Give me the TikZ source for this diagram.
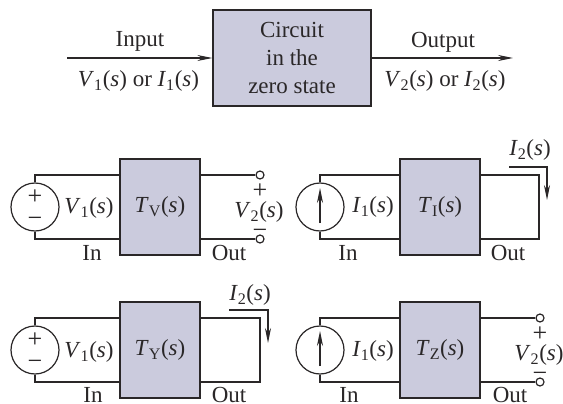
\documentclass[tikz,border=0pt]{standalone}
\usepackage{fontspec}
\usepackage{xcolor}
\usetikzlibrary{arrows.meta,positioning}
\setmainfont{Liberation Serif}
\definecolor{blockFill}{HTML}{CBCBDD}
\definecolor{inkDark}{HTML}{2A2728}
\newcommand{\sig}[2]{\textit{#1}\textsubscript{#2}(\textit{s})}

\begin{document}
\begin{tikzpicture}[
        x=1pt,y=-1pt,
        every node/.style={font=\fontsize{23}{28}\selectfont,text=inkDark,inner sep=0pt},
        block/.style={rectangle,draw=inkDark,fill=blockFill,minimum width=80pt,
                    minimum height=96pt,align=center,line width=1.3pt},
        src/.style={circle,draw=inkDark,fill=white,minimum size=48pt,line width=1.2pt},
        term/.style={circle,draw=inkDark,fill=white,minimum size=8pt,line width=1.2pt},
        sign/.style={font=\fontsize{26}{26}\selectfont},
        wire/.style={color=inkDark,line width=1.2pt},
        arr/.style={-{Stealth[length=15pt,width=6pt]},color=inkDark,line width=1.2pt}
      ]
        \useasboundingbox (0,0) rectangle (563,404);
        % top block
        \node[block,minimum width=158pt] (main) at (292,58) {Circuit\\in the\\zero state};
        \coordinate (inL) at (67,58);
        \coordinate (outR) at (513,58);
        \draw[arr] (inL)--(main.west);
        \draw[arr] (main.east)--(outR);
        \node (inlab) at (140,41) {Input};
        \node (insig) at (138.5,81) {\sig{V}{1} or \sig{I}{1}};
        \node (outlab) at (443,42) {Output};
        \node (outsig) at (445,81) {\sig{V}{2} or \sig{I}{2}};
        % voltage ratio
        \node[src] (s1) at (35,207) {};
        \node[block] (tv) at (160,207) {\sig{T}{V}};
        \node[term] (t1a) at (260,175) {};
        \node[term] (t1b) at (260,239) {};
        \draw[wire] (s1.north) |- (tv.west |- t1a);
        \draw[wire] (s1.south) |- (tv.west |- t1b);
        \draw[wire] (tv.east |- t1a)--(t1a);
        \draw[wire] (tv.east |- t1b)--(t1b);
        \node[sign] (p1) at (35,197) {+};
        \node[sign] (m1) at (35,222) {−};
        \node (v1a) at (89,208) {\sig{V}{1}};
        \node (in1) at (92,253) {In};
        \node (out1) at (229,253) {Out};
        \node[sign] (pv1) at (260,191) {+};
        \node (v2a) at (259,212) {\sig{V}{2}};
        \node[sign] (mv1) at (260,234) {−};
        % current ratio
        \node[src] (s2) at (320,207) {};
        \node[block] (ti) at (440,207) {\sig{T}{I}};
        \coordinate (c2a) at (539,175);
        \coordinate (c2b) at (539,239);
        \draw[wire] (s2.north) |- (ti.west |- c2a);
        \draw[wire] (s2.south) |- (ti.west |- c2b);
        \draw[wire] (ti.east |- c2a)--(c2a)--(c2b)--(ti.east |- c2b);
        \coordinate (a2a) at (320,223);
        \coordinate (a2b) at (320,188);
        \draw[arr] (a2a)--(a2b);
        \coordinate (i2a) at (509,167);
        \coordinate (i2b) at (547,200);
        \draw[arr] (i2a)-|(i2b);
        \node (i1a) at (373,207) {\sig{I}{1}};
        \node (i2l) at (530,150) {\sig{I}{2}};
        \node (in2) at (348,253) {In};
        \node (out2) at (508,253) {Out};
        % transfer admittance
        \node[src] (s3) at (35,350) {};
        \node[block] (ty) at (160,350) {\sig{T}{Y}};
        \coordinate (c3a) at (260,318);
        \coordinate (c3b) at (260,382);
        \draw[wire] (s3.north) |- (ty.west |- c3a);
        \draw[wire] (s3.south) |- (ty.west |- c3b);
        \draw[wire] (ty.east |- c3a)--(c3a)--(c3b)--(ty.east |- c3b);
        \node[sign] (p3) at (35,340) {+};
        \node[sign] (m3) at (35,365) {−};
        \coordinate (i3a) at (229,310);
        \coordinate (i3b) at (268,343);
        \draw[arr] (i3a)-|(i3b);
        \node (v1c) at (89,352) {\sig{V}{1}};
        \node (i2c) at (250,295) {\sig{I}{2}};
        \node (in3) at (93,395) {In};
        \node (out3) at (229,395) {Out};
        % transfer impedance
        \node[src] (s4) at (320,350) {};
        \node[block] (tz) at (440,350) {\sig{T}{Z}};
        \node[term] (t4a) at (540,318) {};
        \node[term] (t4b) at (540,382) {};
        \draw[wire] (s4.north) |- (tz.west |- t4a);
        \draw[wire] (s4.south) |- (tz.west |- t4b);
        \draw[wire] (tz.east |- t4a)--(t4a);
        \draw[wire] (tz.east |- t4b)--(t4b);
        \coordinate (a4a) at (320,366);
        \coordinate (a4b) at (320,331);
        \draw[arr] (a4a)--(a4b);
        \node (i1d) at (373,351) {\sig{I}{1}};
        \node (in4) at (349,395) {In};
        \node (out4) at (510,395) {Out};
        \node[sign] (pv4) at (540,334) {+};
        \node (v2d) at (539,355) {\sig{V}{2}};
        \node[sign] (mv4) at (540,377) {−};
      \end{tikzpicture}
\end{document}
